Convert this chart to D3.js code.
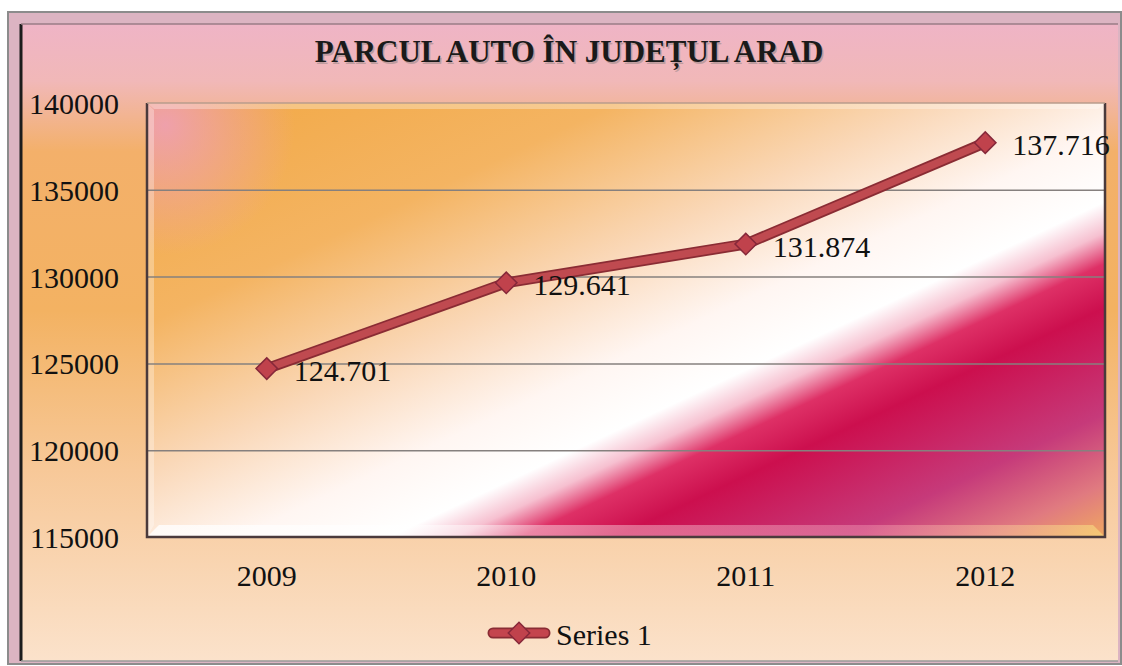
<!DOCTYPE html>
<html>
<head>
<meta charset="utf-8">
<script src="https://cdn.jsdelivr.net/npm/d3@7"></script>
<style>
  body { margin: 0; background: #fff; }
  svg { display: block; }
  text { font-family: "Liberation Serif", "Times New Roman", serif; fill: #111; }
</style>
</head>
<body>
<svg width="1122" height="666"></svg>
<script>
// data
var years = ["2009", "2010", "2011", "2012"];
var values = [124701, 129641, 131874, 137716];
var labels = ["124.701", "129.641", "131.874", "137.716"];
var yTicks = [115000, 120000, 125000, 130000, 135000, 140000];
var title = "PARCUL AUTO ÎN JUDEȚUL ARAD";
var seriesName = "Series 1";

var margin = { left: 147, top: 103, right: 1105, bottom: 537 };

var svg = d3.select("svg");
var defs = svg.append("defs");

// chart background: pink on top, orange middle, peach bottom
var bg = defs.append("linearGradient")
	.attr("id", "bgGrad")
	.attr("x1", 0).attr("y1", 0).attr("x2", 0).attr("y2", 1);
[
	[0, "#efb4c6"],
	[0.09, "#f1b8b8"],
	[0.2, "#f3b06a"],
	[0.45, "#f3b262"],
	[0.7, "#f7c898"],
	[1, "#fbe2cb"]
].forEach(function (s) {
	bg.append("stop").attr("offset", s[0]).attr("stop-color", s[1]);
});

// plot area: diagonal orange -> white -> crimson
var pg = defs.append("linearGradient")
	.attr("id", "plotGrad")
	.attr("gradientUnits", "userSpaceOnUse")
	.attr("x1", margin.left).attr("y1", margin.top)
	.attr("x2", margin.left + 0.424 * 800).attr("y2", margin.top + 0.905 * 800);
[
	[0, "#f2a844"],
	[0.25, "#f4b462"],
	[0.42, "#fad8b8"],
	[0.54, "#fff6f2"],
	[0.62, "#ffffff"],
	[0.655, "#f6c0d0"],
	[0.69, "#de3066"],
	[0.74, "#cc0f4e"],
	[0.86, "#c63a7a"],
	[0.94, "#e07a80"],
	[1, "#f0a860"]
].forEach(function (s) {
	pg.append("stop").attr("offset", s[0]).attr("stop-color", s[1]);
});

var pink = defs.append("radialGradient")
	.attr("id", "pinkTint")
	.attr("gradientUnits", "userSpaceOnUse")
	.attr("cx", 165).attr("cy", 125).attr("r", 130);
pink.append("stop").attr("offset", 0).attr("stop-color", "#ee9ec4").attr("stop-opacity", 0.8);
pink.append("stop").attr("offset", 1).attr("stop-color", "#ee9ec4").attr("stop-opacity", 0);

var bottomBevel = defs.append("linearGradient")
	.attr("id", "bevelGrad")
	.attr("x1", 0).attr("y1", 0).attr("x2", 1).attr("y2", 0);
bottomBevel.append("stop").attr("offset", 0).attr("stop-color", "#ffffff").attr("stop-opacity", 0.8);
bottomBevel.append("stop").attr("offset", 0.35).attr("stop-color", "#ffffff").attr("stop-opacity", 0.45);
bottomBevel.append("stop").attr("offset", 0.75).attr("stop-color", "#f8a0b8").attr("stop-opacity", 0.4);
bottomBevel.append("stop").attr("offset", 1).attr("stop-color", "#f8e080").attr("stop-opacity", 0.6);

// outer frame
svg.append("rect")
	.attr("x", 8).attr("y", 12)
	.attr("width", 1113).attr("height", 652)
	.style("fill", "#dcb4c2")
	.style("stroke", "#8c8c8c")
	.style("stroke-width", 2);

svg.append("rect")
	.attr("x", 21).attr("y", 24)
	.attr("width", 1097).attr("height", 637)
	.style("fill", "url(#bgGrad)");

svg.append("line")
	.attr("x1", 21).attr("y1", 24).attr("x2", 21).attr("y2", 661)
	.style("stroke", "#1c1c1c").style("stroke-width", 3);
svg.append("line")
	.attr("x1", 21).attr("y1", 24).attr("x2", 1118).attr("y2", 24)
	.style("stroke", "#9a7c86").style("stroke-width", 1.5);
svg.append("line")
	.attr("x1", 21).attr("y1", 661).attr("x2", 1118).attr("y2", 661)
	.style("stroke", "#9a9a9a").style("stroke-width", 1.5);

// scales
var x = d3.scaleBand()
	.domain(years)
	.range([margin.left, margin.right])
	.padding(0);

var y = d3.scaleLinear()
	.domain([115000, 140000])
	.range([margin.bottom, margin.top]);

var plotW = margin.right - margin.left,
	plotH = margin.bottom - margin.top;

// plot area
svg.append("rect")
	.attr("x", margin.left).attr("y", margin.top)
	.attr("width", plotW).attr("height", plotH)
	.style("fill", "url(#plotGrad)");
svg.append("rect")
	.attr("x", margin.left).attr("y", margin.top)
	.attr("width", 260).attr("height", 220)
	.style("fill", "url(#pinkTint)");

// bevel strips
svg.append("path")
	.attr("d", "M" + margin.left + "," + margin.bottom +
		"L" + (margin.left + 12) + "," + (margin.bottom - 12) +
		"L" + (margin.right - 12) + "," + (margin.bottom - 12) +
		"L" + margin.right + "," + margin.bottom + "Z")
	.style("fill", "url(#bevelGrad)");
svg.append("path")
	.attr("d", "M" + margin.left + "," + margin.top +
		"L" + (margin.left + 7) + "," + (margin.top + 7) +
		"L" + (margin.left + 7) + "," + (margin.bottom - 12) +
		"L" + margin.left + "," + margin.bottom + "Z")
	.style("fill", "#ffffff").style("fill-opacity", 0.3);
svg.append("path")
	.attr("d", "M" + margin.left + "," + margin.top +
		"L" + margin.right + "," + margin.top +
		"L" + (margin.right - 7) + "," + (margin.top + 6) +
		"L" + (margin.left + 7) + "," + (margin.top + 6) + "Z")
	.style("fill", "#ffffff").style("fill-opacity", 0.3);

// gridlines
svg.append("g")
	.attr("class", "grid")
	.attr("transform", "translate(" + margin.left + ",0)")
	.call(d3.axisLeft(y).tickValues(yTicks.slice(1, -1)).tickSize(-plotW).tickFormat(""))
	.call(function (g) {
		g.select(".domain").remove();
		g.selectAll("line").style("stroke", "#86807e").style("stroke-width", 1.5);
	});

// plot border
svg.append("path")
	.attr("d", "M" + margin.left + "," + margin.top +
		"L" + margin.left + "," + margin.bottom +
		"L" + margin.right + "," + margin.bottom +
		"L" + margin.right + "," + margin.top)
	.style("fill", "none")
	.style("stroke", "#4a3a3c")
	.style("stroke-width", 2.5);
svg.append("line")
	.attr("x1", margin.left).attr("y1", margin.top)
	.attr("x2", margin.right).attr("y2", margin.top)
	.style("stroke", "#b89c8c").style("stroke-width", 1.5);

// axes labels
svg.append("g")
	.attr("transform", "translate(119,0)")
	.call(d3.axisLeft(y).tickValues(yTicks).tickSize(0).tickPadding(0).tickFormat(d3.format("d")))
	.call(function (g) {
		g.select(".domain").remove();
		g.selectAll("text")
			.style("font-size", "30px")
			.style("font-family", "Liberation Serif")
			.attr("dy", "0.35em")
			.style("fill", "#111");
	});

svg.append("g")
	.attr("transform", "translate(0," + margin.bottom + ")")
	.call(d3.axisBottom(x).tickSize(0).tickPadding(0))
	.call(function (g) {
		g.select(".domain").remove();
		g.selectAll("text")
			.attr("y", 38)
			.attr("dy", "0.35em")
			.style("font-size", "30px")
			.style("font-family", "Liberation Serif")
			.style("fill", "#111");
	});

// title with soft shadow
var titleX = 569, titleY = 62;
svg.append("text")
	.attr("x", titleX + 1.5).attr("y", titleY + 1.5)
	.attr("text-anchor", "middle")
	.style("font-size", "31px").style("font-weight", "bold")
	.style("fill", "#9c8a8a").style("fill-opacity", 0.6)
	.text(title);
svg.append("text")
	.attr("x", titleX).attr("y", titleY)
	.attr("text-anchor", "middle")
	.style("font-size", "31px").style("font-weight", "bold")
	.style("fill", "#1a1a1a")
	.text(title);

// series line
var data = years.map(function (d, i) {
	return { year: d, value: values[i], label: labels[i] };
});
var cx = function (d) { return x(d.year) + x.bandwidth() / 2; };

var line = d3.line()
	.x(cx)
	.y(function (d) { return y(d.value); });

svg.append("path")
	.datum(data)
	.attr("d", line)
	.style("fill", "none")
	.style("stroke", "#8a2c34")
	.style("stroke-width", 11)
	.style("stroke-linejoin", "round");
svg.append("path")
	.datum(data)
	.attr("d", line)
	.style("fill", "none")
	.style("stroke", "#bf4a50")
	.style("stroke-width", 7.5)
	.style("stroke-linejoin", "round");

var diamond = d3.symbol().type(d3.symbolSquare).size(230);

svg.append("g")
	.selectAll("path")
	.data(data)
	.enter()
	.append("path")
	.attr("d", diamond)
	.attr("transform", function (d) {
		return "translate(" + cx(d) + "," + y(d.value) + ") rotate(45)";
	})
	.style("fill", "#c0424c")
	.style("stroke", "#86283a")
	.style("stroke-width", 1.5);

// data labels
svg.append("g")
	.selectAll("text")
	.data(data)
	.enter()
	.append("text")
	.attr("x", function (d) { return cx(d) + 27; })
	.attr("y", function (d) { return y(d.value) + 2; })
	.attr("dy", "0.35em")
	.style("font-size", "30px")
	.text(function (d) { return d.label; });

// legend
var legY = 633;
svg.append("line")
	.attr("x1", 493).attr("y1", legY).attr("x2", 545).attr("y2", legY)
	.style("stroke", "#8a2c34").style("stroke-width", 11).style("stroke-linecap", "round");
svg.append("line")
	.attr("x1", 493).attr("y1", legY).attr("x2", 545).attr("y2", legY)
	.style("stroke", "#c4454e").style("stroke-width", 7.5).style("stroke-linecap", "round");
svg.append("path")
	.attr("d", diamond)
	.attr("transform", "translate(519," + legY + ") rotate(45)")
	.style("fill", "#c0424c")
	.style("stroke", "#86283a")
	.style("stroke-width", 1.5);
svg.append("text")
	.attr("x", 556).attr("y", legY + 1)
	.attr("dy", "0.35em")
	.style("font-size", "30px")
	.text(seriesName);
</script>
</body>
</html>
